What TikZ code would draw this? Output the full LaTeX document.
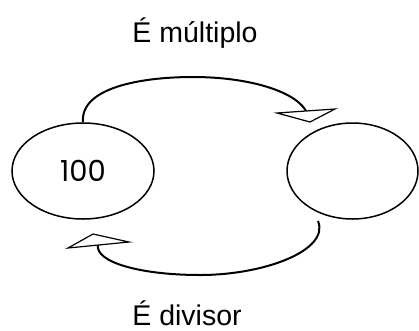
\documentclass[tikz,border=0pt]{standalone}
\usepackage{fontspec}
\setmainfont{Liberation Sans}
\newfontfamily\numfont{Poppins}
\usetikzlibrary{shapes.geometric}
\tikzset{
  bubble/.style={draw, ellipse, line width=1.5pt, inner sep=0pt},
  loopline/.style={line width=2pt},
  openhead/.style={draw, line width=1.2pt, fill=white, line join=miter},
  caption/.style={font=\fontsize{28.5}{30}\selectfont, inner sep=0pt, anchor=base}
}
\begin{document}
\begin{tikzpicture}[x=1pt,y=-1pt]
\useasboundingbox (0,0) rectangle (419,330);
\node[bubble, minimum width=142pt, minimum height=96pt, font=\numfont\fontsize{29}{31}\selectfont] (L) at (83,171) {100};
\node[bubble, minimum width=131pt, minimum height=96pt] (R) at (352.5,171) {};
\node[caption] (T) at (195,42) {É múltiplo};
\node[caption] (B) at (187,325) {É divisor};
% top connector
\coordinate (t1) at (L.north);
\coordinate (t2) at (307,113);
\draw[loopline] (t1) .. controls (80,88) and (140,77) .. (193,77) .. controls (250,77) and (298,92) .. (t2);
\filldraw[openhead] (277,113) -- (335,109) -- (310,122) -- cycle;
% bottom connector
\coordinate (b1) at (318,221);
\coordinate (b2) at (98,245);
\draw[loopline] (b1) .. controls (330,250) and (265,275) .. (200,275) .. controls (140,275) and (95,262) .. (b2);
\filldraw[openhead] (68,248) -- (93,234) -- (129,242) -- cycle;
\end{tikzpicture}
\end{document}
